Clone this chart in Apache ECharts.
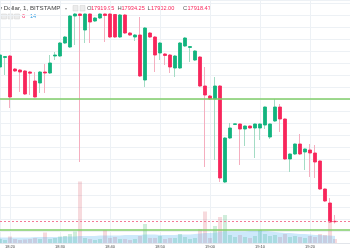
<!DOCTYPE html>
<html><head><meta charset="utf-8">
<script src="https://cdn.jsdelivr.net/npm/echarts@6/dist/echarts.min.js"></script>
<style>html,body{margin:0;padding:0;background:#fff;overflow:hidden}#c{width:350px;height:250px}</style>
</head><body><div id="c"></div>
<script>
const times = ["18:18","18:19","18:20","18:21","18:22","18:23","18:24","18:25","18:26","18:27","18:28","18:29",
"18:30","18:31","18:32","18:33","18:34","18:35","18:36","18:37","18:38","18:39",
"18:40","18:41","18:42","18:43","18:44","18:45","18:46","18:47","18:48","18:49",
"18:50","18:51","18:52","18:53","18:54","18:55","18:56","18:57","18:58","18:59",
"19:00","19:01","19:02","19:03","19:04","19:05","19:06","19:07","19:08","19:09",
"19:10","19:11","19:12","19:13","19:14","19:15","19:16","19:17","19:18","19:19",
"19:20","19:21","19:22","19:23","19:24","19:25"];
const opens = [18700,18747.5,18755,18690,18685,18680,18675,18630,18620,18675,18670,18755,18755,18820,18800,18955,18965,18885,18965,18930,18945,18965,18965,18962.5,18850,18960,18870,18850,18860,18635,18870,18850,18770,18765,18760,18695,18695,18805,18797.5,18735,18750,18605,18555,18540,18605,18125,18345,18412.5,18415,18390,18405,18395,18395,18410,18350,18430,18500,18440,18240,18265,18315,18275,18285,18270,18230,18090,18020,17928.5];
const closes = [18760,18752.5,18550,18680,18675,18565,18669,18550,18675,18670,18720,18760,18820,18850,18955,18965,18957.5,18965,18925,18945,18965,18957.5,18850,18850,18960,18870,18860,18860,18655,18895,18850,18760,18820,18757.5,18700,18755,18820,18845,18802.5,18780,18605,18560,18540,18605,18145,18345,18395,18416,18390,18405,18395,18415,18415,18500,18415,18500,18440,18240,18265,18315,18265,18290,18270,18225,18090,18030,17925,17926.5];
const lows = [18685,18660,18495,18675,18575,18560,18560,18547.5,18570,18570,18665,18735,18750,18815,18795,18810,18225,18820,18820,18925,18940,18825,18845,18845,18845,18865,18855,18830,18650,18600,18845,18675,18735,18710,18670,18650,18690,18800,18725,18730,18600,18200,18535,18235,18125,18120,18340,18410,18210,18305,18392.5,18245,18335,18390,18340,18425,18375,18235,18175,18260,18260,18185,18150,18145,18085,18025,17920,17917.5];
const highs = [18765,18755,18760,18695,18690,18685,18680,18675,18680,18715,18760,18775,18825,18855,18960,18970,18967.5,18967.5,18967.5,18950,18967.5,18967.5,18967.5,18965,18965,18965,18875,18865,18950,18900,18875,18855,18825,18770,18765,18760,18825,18850,18805,18785,18755,18700,18560,18650,18610,18350,18420,18417.5,18417.5,18407.5,18407.5,18417.5,18417.5,18502.5,18417.5,18540,18515,18442.5,18267.5,18317.5,18365,18292.5,18315,18310,18232.5,18092.5,18045,17960];
const volumes = [8,6,13,8,6,7,8,10,8,21,8,10,13,14,18,23,123,10,8,6,8,26,10,12,8,8,6,8,14,38,10,10,14,8,10,10,18,12,8,10,28,63,10,34,52,56,16,12,16,12,10,14,26,18,14,16,12,18,12,14,12,10,14,12,18,16,46,8];
const volMA = [11,11,11,11,11,11,11,12,12,12,12,12,12,13,13,13,14,14,14,14,15,15,15,15,15,16,16,16,16,17,17,17,16,16,16,16,17,17,17,18,19,20,20,21,22,23,23,23,23,23,24,24,24,24,23,22,21,20,20,19,18,18,17,16,16,15,15,14];
const levels = [18543.5, 17885];
const xTickLabels = ["18:20","18:30","18:40","18:50","19:00","19:10","19:20"];

const toMin = t => { const p = t.split(':').map(Number); return (p[0]-18)*60 + p[1]; };
const xs = times.map(toMin);
const full = xs.map((x,i)=>[x, opens[i], closes[i], lows[i], highs[i]]);
const bodies = xs.map((x,i)=>[x, opens[i], closes[i], Math.min(opens[i],closes[i]), Math.max(opens[i],closes[i])]);
const UP='#12b47e', DOWN='#f8265b', UPW='#a3dcc4', DOWNW='#f5aebf';
const vol = xs.map((x,i)=>({value:[x, volumes[i]], itemStyle:{color: closes[i]>=opens[i] ? 'rgba(40,175,90,0.22)' : 'rgba(215,70,85,0.2)'}}));
const ma = xs.map((x,i)=>[x, volMA[i]]);
const lastClose = closes[closes.length-1];
const font = 'Liberation Sans, Arial, sans-serif';
const labelMap = {}; xTickLabels.forEach(t => { labelMap[toMin(t)] = t; });

const chart = echarts.init(document.getElementById('c'));
chart.setOption({
  animation:false,
  grid:{left:0, right:0, top:0, bottom:7, containLabel:false},
  xAxis:{type:'value', min:18, max:88, splitNumber:5,
    axisLine:{show:true, lineStyle:{color:'#e2e5ea'}}, axisTick:{show:false},
    splitLine:{show:true, lineStyle:{color:'#edf1f5'}},
    axisLabel:{fontSize:4, color:'#444', margin:2, fontFamily:font, showMinLabel:false, showMaxLabel:false,
      formatter:v=>labelMap[Math.round(v)] || ''}},
  yAxis:[{type:'value', min:17820, max:19035, interval:60, axisLine:{show:false}, axisTick:{show:false},
      axisLabel:{show:false}, splitLine:{show:true, lineStyle:{color:'#edf1f5'}}},
    {type:'value', min:0, max:486, show:false, splitLine:{show:false}}],
  series:[
    {type:'line', yAxisIndex:1, data:ma, showSymbol:false, silent:true, lineStyle:{width:0},
      areaStyle:{color:'rgba(45,165,238,0.34)'}},
    {type:'bar', yAxisIndex:1, data:vol, barWidth:4, silent:true},
    {type:'candlestick', data:full, barWidth:2, silent:true,
      itemStyle:{color:UPW, color0:DOWNW, borderColor:UPW, borderColor0:DOWNW, borderWidth:1}},
    {type:'candlestick', data:bodies, barWidth:3.2, silent:true,
      itemStyle:{color:UP, color0:DOWN, borderColor:UP, borderColor0:DOWN, borderWidth:0.8},
      markLine:{silent:true, symbol:'none', label:{show:false},
        data:[
          {yAxis:levels[0], lineStyle:{color:'#7fcd68', width:1.6, type:'solid'}},
          {yAxis:levels[1], lineStyle:{color:'#7fcd68', width:1.6, type:'solid'}},
          {yAxis:lastClose, lineStyle:{color:'#f47a97', width:1, type:[2,2]}}
        ]}}
  ],
  graphic:[
    {type:'rect', shape:{x:225,y:0,width:125,height:1}, style:{fill:'#d8d8d8'}},
    {type:'text', x:-1, y:8.5, style:{text:'y Dollar, 1, BITSTAMP', fill:'#444', font:'6.2px '+font, verticalAlign:'middle'}},
    {type:'text', x:65, y:8.5, style:{text:'▾', fill:'#999', font:'4px '+font, verticalAlign:'middle'}},
    {type:'rect', shape:{x:73,y:5.5,width:5,height:5.5}, style:{fill:'#ececec', stroke:'#d0d0d0', lineWidth:0.5}},
    {type:'rect', shape:{x:80,y:5.5,width:5,height:5.5}, style:{fill:'#ececec', stroke:'#d0d0d0', lineWidth:0.5}},
    {type:'text', x:87, y:8.5, style:{text:'O', fill:'#555', font:'5.8px '+font, verticalAlign:'middle'}},
    {type:'text', x:91, y:8.5, style:{text:'17919.95', fill:DOWN, font:'5.6px '+font, verticalAlign:'middle'}},
    {type:'text', x:117.5, y:8.5, style:{text:'H', fill:'#555', font:'5.8px '+font, verticalAlign:'middle'}},
    {type:'text', x:121.5, y:8.5, style:{text:'17934.25', fill:DOWN, font:'5.6px '+font, verticalAlign:'middle'}},
    {type:'text', x:147.5, y:8.5, style:{text:'L', fill:'#555', font:'5.8px '+font, verticalAlign:'middle'}},
    {type:'text', x:151, y:8.5, style:{text:'17902.00', fill:DOWN, font:'5.6px '+font, verticalAlign:'middle'}},
    {type:'text', x:183, y:8.5, style:{text:'C', fill:'#555', font:'5.8px '+font, verticalAlign:'middle'}},
    {type:'text', x:187.5, y:8.5, style:{text:'17918.47', fill:DOWN, font:'5.6px '+font, verticalAlign:'middle'}},
    {type:'rect', shape:{x:1.5,y:14,width:5,height:5}, style:{fill:'#ececec', stroke:'#d0d0d0', lineWidth:0.5}},
    {type:'rect', shape:{x:8,y:14,width:5,height:5}, style:{fill:'#ececec', stroke:'#d0d0d0', lineWidth:0.5}},
    {type:'rect', shape:{x:14.5,y:14,width:5,height:5}, style:{fill:'#ececec', stroke:'#d0d0d0', lineWidth:0.5}},
    {type:'text', x:22, y:16.5, style:{text:'6', fill:DOWN, font:'5.5px '+font, verticalAlign:'middle'}},
    {type:'text', x:30, y:16.5, style:{text:'14', fill:'#2f9be3', font:'5.5px '+font, verticalAlign:'middle'}}
  ]
});
</script>
</body></html>
